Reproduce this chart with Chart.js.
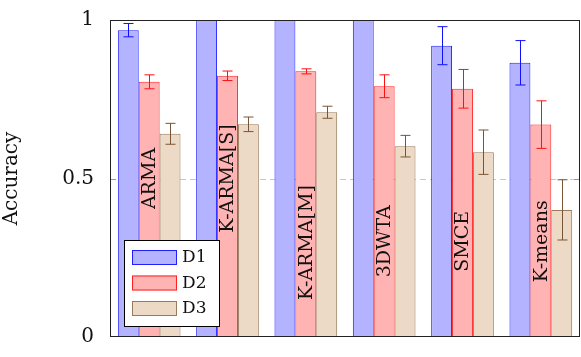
<!DOCTYPE html>
<html>
<head>
<meta charset="utf-8">
<script src="https://cdn.jsdelivr.net/npm/chart.js@4"></script>
<style>
  body { margin: 0; background: #fff; }
  #wrap { width: 581px; height: 357px; }
</style>
</head>
<body>
<div id="wrap"><canvas id="accChart" width="581" height="357"></canvas></div>
<script>
let methods = ["ARMA", "K-ARMA[S]", "K-ARMA[M]", "3DWTA", "SMCE", "K-means"];
let seriesNames = ["D1", "D2", "D3"];
let d1 = [0.968, 1.0, 1.0, 1.0, 0.919, 0.865];
let d2 = [0.805, 0.824, 0.838, 0.791, 0.783, 0.670];
let d3 = [0.641, 0.671, 0.709, 0.602, 0.583, 0.401];
let e1 = [0.021, 0, 0, 0, 0.060, 0.070];
let e2 = [0.022, 0.015, 0.008, 0.036, 0.061, 0.075];
let e3 = [0.033, 0.023, 0.019, 0.034, 0.070, 0.095];
// height (in axis units) where each method name sits inside its D2 bar
let labelAt = [0.5, 0.5, 0.298, 0.302, 0.302, 0.302];
let yTicks = [0, 0.5, 1];

let fillColors = ["#b3b3ff", "#ffb3b3", "#ecdac7"];
let lineColors = ["#2020ff", "#ff2020", "#9a7a5a"];
let errColors = ["#1010ff", "#ff1010", "#7a5535"];
let errors = [e1, e2, e3];
let serif = "'DejaVu Serif', serif";

// error bars with caps, drawn with the y scale
let errorBarPlugin = {
    id: 'errorBars',
    afterDatasetsDraw(chart) {
        let ctx = chart.ctx, y = chart.scales.y, area = chart.chartArea;
        ctx.save();
        ctx.beginPath();
        ctx.rect(area.left, area.top, area.right - area.left, area.bottom - area.top);
        ctx.clip();
        ctx.lineWidth = 1;
        for (let s = 0; s < chart.data.datasets.length; s++) {
            let meta = chart.getDatasetMeta(s);
            let vals = chart.data.datasets[s].data;
            ctx.strokeStyle = errColors[s];
            for (let i = 0; i < vals.length; i++) {
                let err = errors[s][i];
                if (!err) continue;
                let x = Math.round(meta.data[i].x) + 0.5;
                let top = y.getPixelForValue(vals[i] + err);
                let bot = y.getPixelForValue(vals[i] - err);
                ctx.beginPath();
                ctx.moveTo(x, top); ctx.lineTo(x, bot);
                ctx.moveTo(x - 5, top); ctx.lineTo(x + 5, top);
                ctx.moveTo(x - 5, bot); ctx.lineTo(x + 5, bot);
                ctx.stroke();
            }
        }
        ctx.restore();
    }
};

// dashed line at 0.5 behind the bars, rotated names and legend on top
let decorPlugin = {
    id: 'decor',
    beforeDatasetsDraw(chart) {
        let ctx = chart.ctx, y = chart.scales.y, area = chart.chartArea;
        let py = Math.round(y.getPixelForValue(0.5)) + 0.5;
        ctx.save();
        ctx.strokeStyle = '#c8c8c8';
        ctx.lineWidth = 1;
        ctx.setLineDash([6, 4]);
        ctx.beginPath();
        ctx.moveTo(area.left, py);
        ctx.lineTo(area.right, py);
        ctx.stroke();
        ctx.restore();
    },
    afterDraw(chart) {
        let ctx = chart.ctx, y = chart.scales.y, area = chart.chartArea;
        let meta = chart.getDatasetMeta(1);
        ctx.save();
        ctx.fillStyle = '#111';
        ctx.font = "19px " + serif;
        ctx.textAlign = 'center';
        ctx.textBaseline = 'middle';
        for (let i = 0; i < methods.length; i++) {
            ctx.save();
            ctx.translate(meta.data[i].x + 1, y.getPixelForValue(labelAt[i]));
            ctx.rotate(-Math.PI / 2);
            ctx.fillText(methods[i], 0, 0);
            ctx.restore();
        }

        // legend box
        let lx = area.left + 14, ly = area.bottom - 97;
        ctx.fillStyle = '#fff';
        ctx.fillRect(lx, ly, 95, 86);
        ctx.strokeStyle = '#000';
        ctx.lineWidth = 1;
        ctx.strokeRect(lx + 0.5, ly + 0.5, 95, 86);
        ctx.font = "17px " + serif;
        ctx.textAlign = 'left';
        for (let s = 0; s < seriesNames.length; s++) {
            let ry = ly + 10 + s * 25.5;
            ctx.fillStyle = fillColors[s];
            ctx.fillRect(lx + 8, ry, 45, 15);
            ctx.strokeStyle = lineColors[s];
            ctx.strokeRect(lx + 8.5, ry + 0.5, 44, 14);
            ctx.fillStyle = '#111';
            ctx.fillText(seriesNames[s], lx + 58, ry + 8);
        }
        ctx.restore();
    }
};

// axis box round the plot area, plus short ticks at 0.5
let framePlugin = {
    id: 'frame',
    afterDraw(chart) {
        let c = chart.ctx, area = chart.chartArea, y = chart.scales.y;
        let l = Math.round(area.left), r = Math.round(area.right);
        let t = Math.round(area.top), b = Math.round(area.bottom);
        c.save();
        c.fillStyle = '#222';
        c.fillRect(l, t, r - l, 1);
        c.fillRect(l, b - 1, r - l, 1);
        c.fillRect(l, t, 1, b - t);
        c.fillRect(r - 1, t, 1, b - t);
        let pm = Math.round(y.getPixelForValue(0.5));
        c.fillStyle = '#999';
        c.fillRect(l + 1, pm, 5, 1);
        c.fillRect(r - 6, pm, 5, 1);
        c.restore();
    }
};

let allData = [d1, d2, d3];
let datasets = [];
for (let s = 0; s < seriesNames.length; s++) {
    datasets.push({
        label: seriesNames[s],
        data: allData[s],
        backgroundColor: fillColors[s],
        borderColor: lineColors[s],
        borderWidth: 1,
        categoryPercentage: 0.8,
        barPercentage: 1.0
    });
}

let ctx = document.getElementById('accChart').getContext('2d');
let accChart = new Chart(ctx, {
    type: 'bar',
    data: { labels: methods, datasets: datasets },
    options: {
        responsive: false,
        animation: false,
        layout: { padding: { top: 16, right: 1, left: 0, bottom: 16 } },
        plugins: {
            legend: { display: false },
            tooltip: { enabled: false }
        },
        scales: {
            x: { display: false },
            y: {
                min: 0,
                max: 1,
                afterBuildTicks: function(scale) {
                    scale.ticks = yTicks.map(function(v) { return { value: v }; });
                },
                afterFit: function(scale) { scale.width = 110; },
                grid: { display: false },
                border: { display: false },
                ticks: {
                    color: '#111',
                    padding: 8,
                    font: { family: serif, size: 20 },
                    callback: function(v) { return String(v); }
                },
                title: {
                    display: true,
                    text: 'Accuracy',
                    color: '#111',
                    font: { family: serif, size: 20 },
                    padding: { top: 0, bottom: 0 }
                }
            }
        }
    },
    plugins: [decorPlugin, errorBarPlugin, framePlugin]
});
</script>
</body>
</html>
